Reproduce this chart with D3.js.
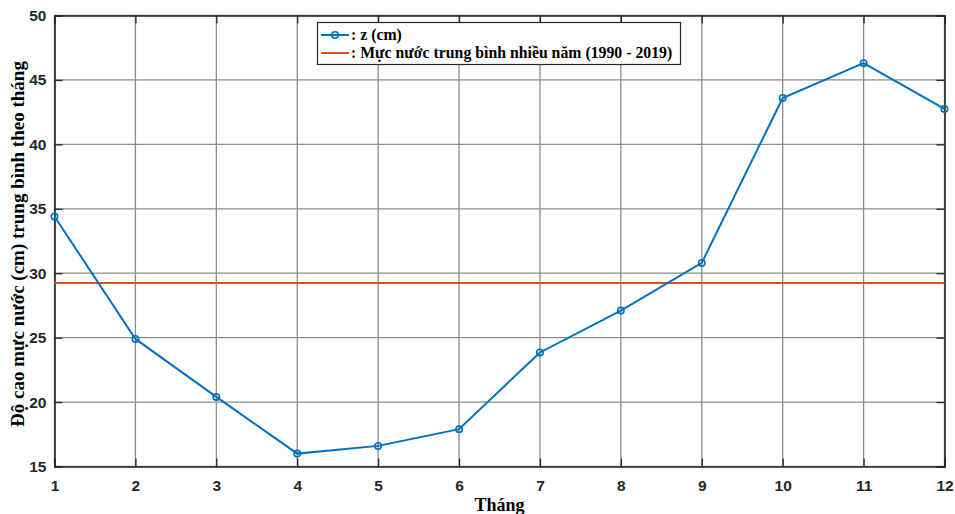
<!DOCTYPE html>
<html><head><meta charset="utf-8">
<script src="https://cdn.jsdelivr.net/npm/d3@7"></script>
<style>body{margin:0;background:#fff}</style>
</head><body>
<svg id="c" width="955" height="514"></svg>
<script>
const months = [1,2,3,4,5,6,7,8,9,10,11,12];
const zValues = [34.4, 24.9, 20.4, 16.0, 16.6, 17.9, 23.85, 27.1, 30.8, 43.6, 46.3, 42.75];
const meanLevel = 29.25;
const yTicks = [15,20,25,30,35,40,45,50];
const seriesLabels = [": z (cm)", ": Mực nước trung bình nhiều năm (1990 - 2019)"];
const xTitle = "Tháng";
const yTitle = "Độ cao mực nước (cm) trung bình theo tháng";

const svg = d3.select("#c");
const L=54.5, R=944.5, T=15.5, B=466.5;
const x = d3.scaleLinear().domain([1,12]).range([L,R]);
const y = d3.scaleLinear().domain([15,50]).range([B,T]);

// grid
const g = svg.append("g");
g.selectAll(".gx").data(months).enter().append("line")
  .attr("x1",d=>x(d)).attr("x2",d=>x(d)).attr("y1",T).attr("y2",B)
  .attr("stroke","#8c8c8c").attr("stroke-width",1.3);
g.selectAll(".gy").data(yTicks).enter().append("line")
  .attr("y1",d=>y(d)).attr("y2",d=>y(d)).attr("x1",L).attr("x2",R)
  .attr("stroke","#8c8c8c").attr("stroke-width",1.3);

// axes
const xa = svg.append("g").attr("transform",`translate(0,${B})`)
  .call(d3.axisBottom(x).tickValues(months).tickSize(-8).tickPadding(13).tickFormat(d3.format("d")));
const xaTop = svg.append("g").attr("transform",`translate(0,${T})`)
  .call(d3.axisTop(x).tickValues(months).tickSize(-8).tickFormat(""));
const ya = svg.append("g").attr("transform",`translate(${L},0)`)
  .call(d3.axisLeft(y).tickValues(yTicks).tickSize(-8).tickPadding(8));
const yaR = svg.append("g").attr("transform",`translate(${R},0)`)
  .call(d3.axisRight(y).tickValues(yTicks).tickSize(-8).tickFormat(""));
[xa,xaTop,ya,yaR].forEach(a=>{
  a.selectAll("path").attr("stroke","#262626").attr("stroke-width",1.6);
  a.selectAll("line").attr("stroke","#262626").attr("stroke-width",1.3);
  a.selectAll("text").attr("font-family","Liberation Sans, Arial, sans-serif")
   .attr("font-weight","bold").attr("font-size","15.5px").attr("fill","#262626");
});

// mean line
svg.append("line").attr("x1",L).attr("x2",R).attr("y1",y(meanLevel)).attr("y2",y(meanLevel))
  .attr("stroke","#D95319").attr("stroke-width",2);

// series
const line = d3.line().x((d,i)=>x(months[i])).y(d=>y(d));
svg.append("path").datum(zValues).attr("d",line).attr("fill","none")
  .attr("stroke","#0072BD").attr("stroke-width",2);
svg.selectAll(".pt").data(zValues).enter().append("circle")
  .attr("cx",(d,i)=>x(months[i])).attr("cy",d=>y(d)).attr("r",3.2)
  .attr("fill","none").attr("stroke","#0072BD").attr("stroke-width",1.6);

// legend
const lg = svg.append("g");
lg.append("rect").attr("x",317.5).attr("y",22.5).attr("width",363).attr("height",42)
  .attr("fill","#fff").attr("stroke","#262626").attr("stroke-width",1.2);
lg.append("line").attr("x1",321).attr("x2",349).attr("y1",35).attr("y2",35).attr("stroke","#0072BD").attr("stroke-width",2);
lg.append("circle").attr("cx",335).attr("cy",35).attr("r",3.2).attr("fill","none").attr("stroke","#0072BD").attr("stroke-width",1.6);
lg.append("line").attr("x1",321).attr("x2",349).attr("y1",53).attr("y2",53).attr("stroke","#D95319").attr("stroke-width",2);
lg.selectAll("text").data(seriesLabels).enter().append("text")
  .attr("x",351).attr("y",(d,i)=>40+i*18).text(d=>d)
  .attr("font-family","Liberation Serif, Times New Roman, serif").attr("font-weight","bold")
  .attr("font-size","15.8px").attr("fill","#000");

// titles
svg.append("text").attr("x",(L+R)/2).attr("y",511).attr("text-anchor","middle")
  .attr("font-family","Liberation Serif, Times New Roman, serif").attr("font-weight","bold")
  .attr("font-size","18px").text(xTitle);
svg.append("text").attr("transform",`translate(24,${(T+B)/2+3}) rotate(-90)`).attr("text-anchor","middle")
  .attr("font-family","Liberation Serif, Times New Roman, serif").attr("font-weight","bold")
  .attr("font-size","19px").text(yTitle);
</script>
</body></html>
